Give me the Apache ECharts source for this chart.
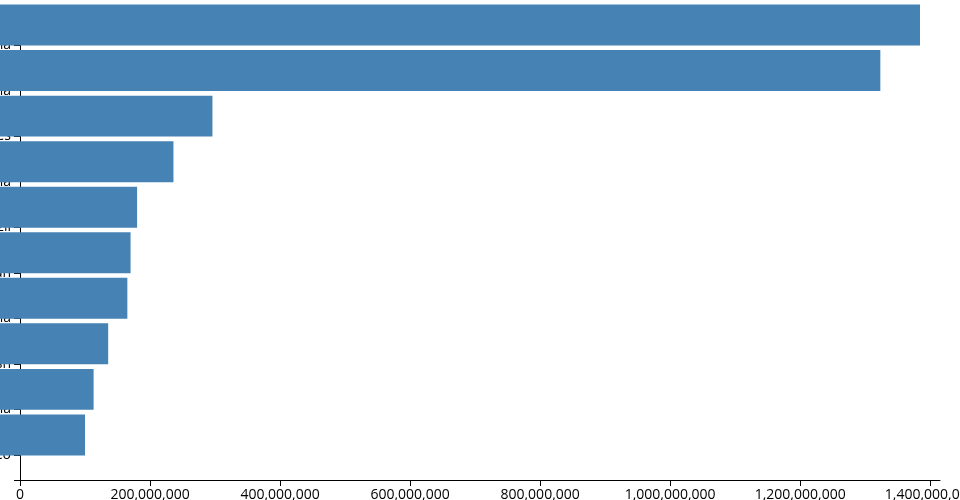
<!DOCTYPE html>
<html>
<head>
<meta charset="utf-8">
<script src="https://cdn.jsdelivr.net/npm/echarts@6/dist/echarts.min.js"></script>
<style>
html,body{margin:0;padding:0;background:#fff;}
#chart{width:960px;height:500px;}
</style>
</head>
<body>
<div id="chart"></div>
<script>
const countries = ['China','India','United States','Indonesia','Brazil','Pakistan','Nigeria','Bangladesh','Russia','Mexico'];
const population = [1415045928,1354051854,326766748,266794980,210867954,200813818,195875237,166368149,143964709,130759074];
const tickStep = 200000000;

const maxVal = Math.max.apply(null, population);
const font = {fontFamily: 'Open Sans', fontSize: 14, color: '#000'};
const fmt = v => Math.round(v).toLocaleString('en-US');

const chart = echarts.init(document.getElementById('chart'), null, {renderer: 'canvas'});
chart.setOption({
  animation: false,
  backgroundColor: '#fff',
  grid: [
    {left: 20, top: 20, width: 920, height: 460, outerBoundsMode: 'none', containLabel: false},
    {left: 20, top: 22.28, width: 920, height: 455.4, outerBoundsMode: 'none', containLabel: false},
    {left: 0, top: 2.28, width: 920, height: 455.4, outerBoundsMode: 'none', containLabel: false}
  ],
  xAxis: [
    {gridIndex: 0, type: 'value', min: 0, max: maxVal, interval: tickStep,
     axisLine: {show: true, onZero: false, lineStyle: {color: '#000', width: 1}},
     axisTick: {show: true, length: 6, lineStyle: {color: '#000'}},
     splitLine: {show: false},
     axisLabel: Object.assign({margin: 8, showMaxLabel: false, formatter: fmt}, font)},
    {gridIndex: 1, type: 'value', min: 0, max: maxVal, show: false},
    {gridIndex: 2, type: 'value', min: 0, max: maxVal, show: false}
  ],
  yAxis: [
    {gridIndex: 0, type: 'value', min: 0, max: 1, interval: 1,
     axisLine: {show: true, onZero: false, lineStyle: {color: '#000', width: 1}},
     axisTick: {show: true, length: 6, lineStyle: {color: '#000'}},
     axisLabel: {show: false}, splitLine: {show: false}},
    {gridIndex: 1, type: 'category', data: countries, inverse: true,
     axisLine: {show: false, onZero: false},
     axisTick: {show: true, alignWithLabel: true, length: 6, lineStyle: {color: '#000'}},
     axisLabel: Object.assign({margin: 9}, font)},
    {gridIndex: 2, type: 'category', data: countries, inverse: true, show: false}
  ],
  series: [{
    type: 'bar', xAxisIndex: 2, yAxisIndex: 2,
    data: population, barCategoryGap: '10%',
    itemStyle: {color: '#4682b4'},
    z: 5
  }]
});
</script>
</body>
</html>
